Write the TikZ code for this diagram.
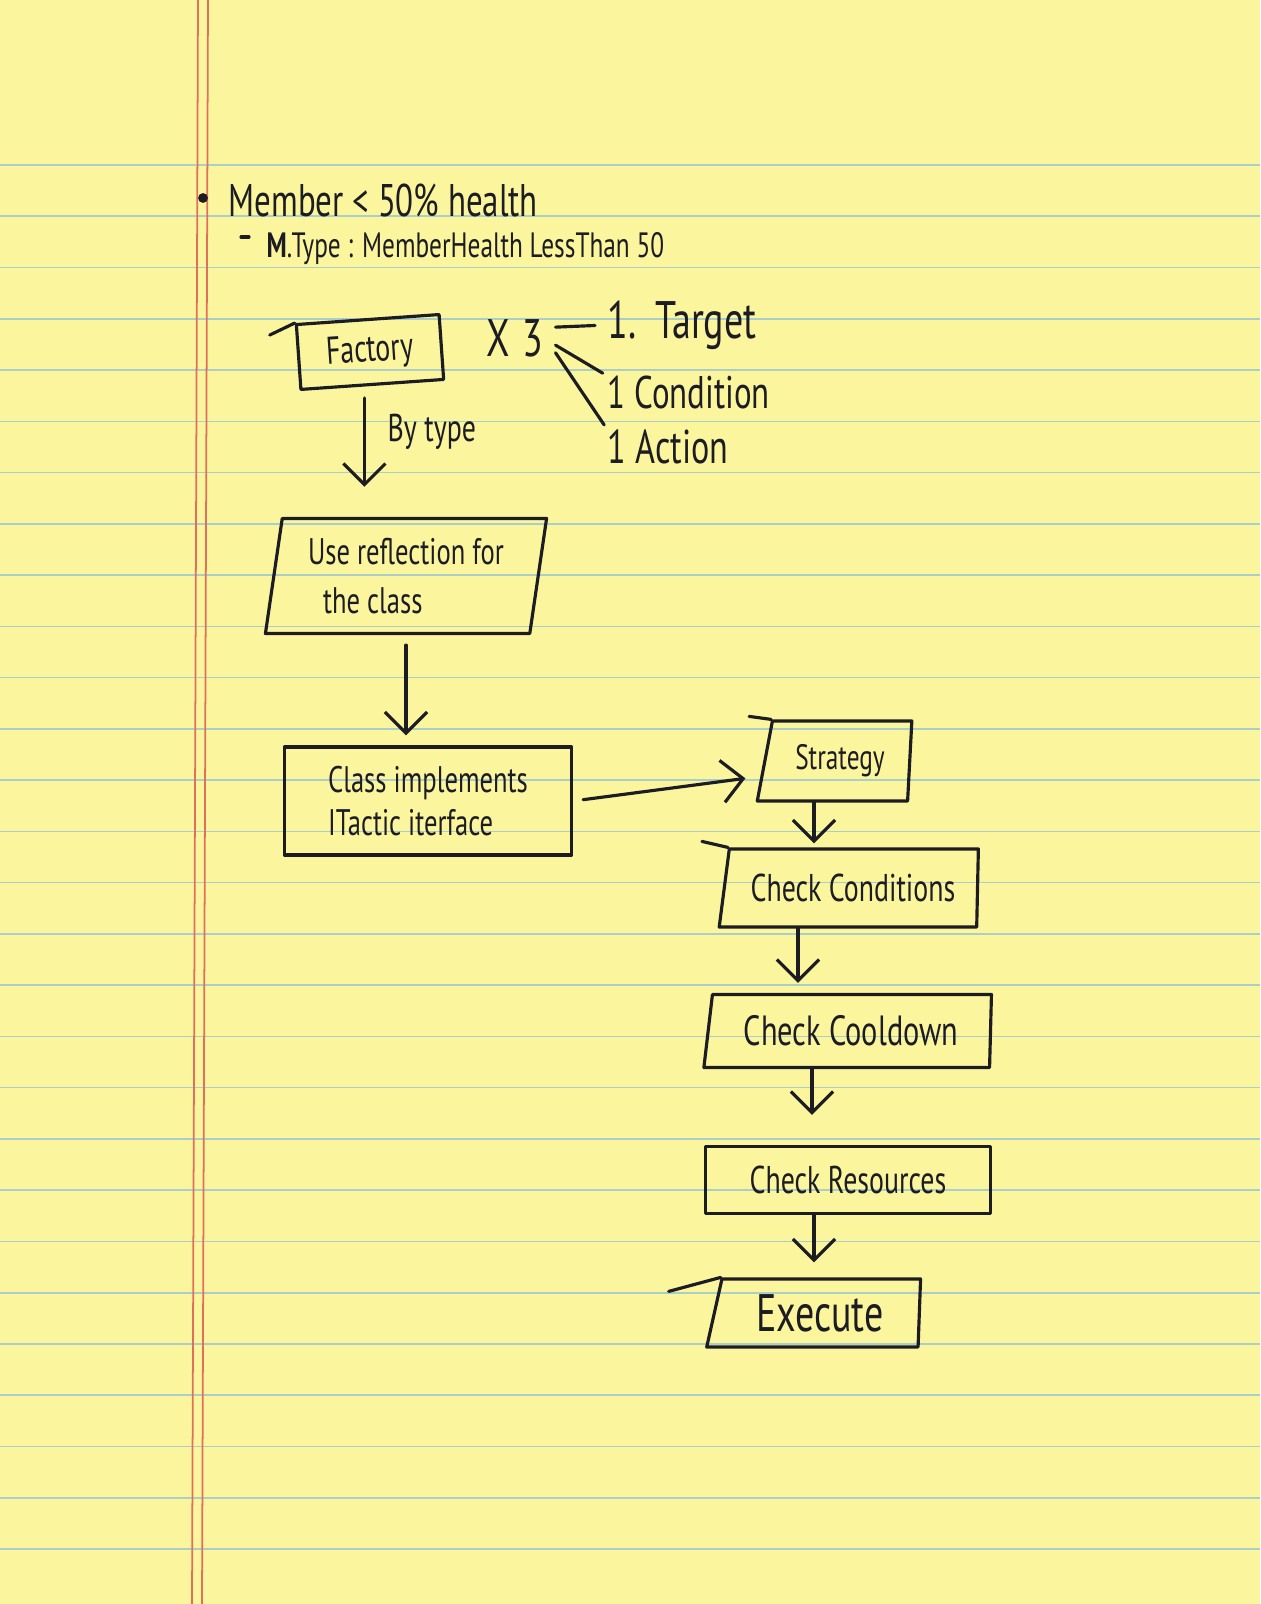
\documentclass[tikz,border=0pt]{standalone}
\usepackage{fontspec}
\setmainfont{PT Sans}[FakeStretch=0.72]
\usetikzlibrary{arrows.meta,shapes.geometric}

\definecolor{paper}{RGB}{251,246,158}
\definecolor{ruling}{RGB}{172,206,200}
\definecolor{margin}{RGB}{224,112,92}
\definecolor{ink}{RGB}{28,28,34}

\tikzset{
  pen/.style={draw=ink, line width=0.9pt, line cap=round, line join=round},
  box/.style={pen, rectangle, inner sep=2pt},
  slantbox/.style={pen, trapezium, trapezium stretches=true,
    trapezium left angle=80, trapezium right angle=92, inner sep=2pt},
  flow/.style={pen, -{Straight Barb[length=6pt,width=12pt]}},
  scrawl/.style={text=ink, font=\fontsize{11}{13}\selectfont}
}

\begin{document}
\begin{tikzpicture}[x=0.01cm, y=-0.01cm]

  % the sheet
  \fill[paper] (0,0) rectangle (1260,1604);
  \useasboundingbox (0,0) rectangle (1260,1604);
  \foreach \k in {0,...,27}
    \draw[ruling, line width=0.45pt] (0,{165+51.26*\k}) -- (1260,{165+51.26*\k});
  \draw[margin, line width=0.5pt] (198,0) -- (192,1604);
  \draw[margin, line width=0.5pt] (208,0) -- (202,1604);

  % header lines
  \fill[ink] (203,198) circle (1.4pt);
  \node[scrawl, anchor=west, inner sep=0, font=\fontsize{13}{15}\selectfont]
        (member) at (228,200) {Member < 50\% health};
  \draw[pen] (241,237) -- (249,237);
  \node[scrawl, anchor=west, inner sep=0, font=\fontsize{10}{12}\selectfont]
        (mtype) at (266,249) {\textbf{M}.Type : MemberHealth LessThan 50};

  % left column
  \node[box, scrawl, rotate=4, minimum width=1.43cm, minimum height=0.65cm]
        (factory) at (370,352) {Factory};
  \node[slantbox, scrawl, trapezium left angle=81, trapezium right angle=99,
        minimum width=2.82cm, minimum height=1.15cm, align=left,
        font=\fontsize{10.5}{14}\selectfont]
        (reflect) at (406,576) {Use reflection for\\\hspace*{0.15cm}the class};
  \node[box, scrawl, minimum width=2.87cm, minimum height=1.08cm, align=left,
        font=\fontsize{10.5}{12}\selectfont]
        (classimpl) at (428,801) {Class implements\\ITactic iterface};

  % x 3 and its parts
  \node[scrawl, font=\fontsize{15}{17}\selectfont]
        (times) at (515,338) {X\hspace{0.12cm}3};
  \node[scrawl, anchor=west, inner sep=0, font=\fontsize{15}{17}\selectfont]
        (target) at (607,325) {1.\hspace{0.05cm} Target};
  \node[scrawl, anchor=west, inner sep=0, font=\fontsize{13}{15}\selectfont]
        (condition) at (607,393) {1 Condition};
  \node[scrawl, anchor=west, inner sep=0, font=\fontsize{13.5}{15}\selectfont]
        (action) at (607,447) {1 Action};

  \draw[pen, shorten >=0.12cm] (times.15) -- (target.west);
  \draw[pen, shorten >=0.05cm] (times.-10) -- (condition.north west);
  \draw[pen, shorten >=0.05cm] (times.-20) -- (action.north west);

  % right column
  \node[slantbox, scrawl, trapezium left angle=76, trapezium right angle=94,
        minimum width=1.55cm, minimum height=0.8cm, font=\fontsize{10}{12}\selectfont]
        (strategy) at (840,761) {Strategy};
  \node[slantbox, scrawl, trapezium left angle=78,
        minimum width=2.6cm, minimum height=0.78cm]
        (conditions) at (853,888) {Check Conditions};
  \node[slantbox, scrawl, trapezium left angle=81,
        minimum width=2.88cm, minimum height=0.73cm, font=\fontsize{12}{14}\selectfont]
        (cooldown) at (851,1031) {Check Cooldown};
  \node[box, scrawl, minimum width=2.85cm, minimum height=0.67cm]
        (resources) at (848,1180) {Check Resources};
  \node[slantbox, scrawl, trapezium left angle=78,
        minimum width=2.14cm, minimum height=0.68cm, font=\fontsize{15}{17}\selectfont]
        (execute) at (820,1313) {Execute};

  % top strokes running past the boxes
  \draw[pen] (factory.north west) -- ++(-25,12);
  \draw[pen] (strategy.top left corner) -- ++(-22,-3);
  \draw[pen] (conditions.top left corner) -- ++(-26,-6);
  \draw[pen] (execute.top left corner) -- ++(-52,14);

  % arrows
  \draw[flow, shorten <=0.12cm, shorten >=0.3cm]
        ([xshift=-0.08cm]factory.south) -- ([xshift=-0.08cm]factory.south |- reflect.north)
        node[scrawl, pos=0.35, right=0.1cm] (bytype) {By type};
  \draw[flow, shorten <=0.1cm, shorten >=0.1cm]
        (reflect.south) -- (reflect.south |- classimpl.north);
  \draw[flow, shorten <=0.1cm, shorten >=0.18cm]
        (classimpl.east) -- ([yshift=-0.15cm]strategy.west);
  \draw[flow, shorten >=0.04cm]
        ([xshift=-0.26cm]strategy.south) -- ([xshift=-0.26cm]strategy.south |- conditions.north);
  \draw[flow, shorten >=0.1cm]
        ([xshift=-0.55cm]conditions.south) -- ([xshift=-0.55cm]conditions.south |- cooldown.north);
  \draw[flow, shorten >=0.3cm]
        ([xshift=-0.39cm]cooldown.south) -- ([xshift=-0.39cm]cooldown.south |- resources.north);
  \draw[flow, shorten >=0.15cm]
        ([xshift=-0.34cm]resources.south) -- ([xshift=-0.34cm]resources.south |- execute.north);

\end{tikzpicture}
\end{document}
